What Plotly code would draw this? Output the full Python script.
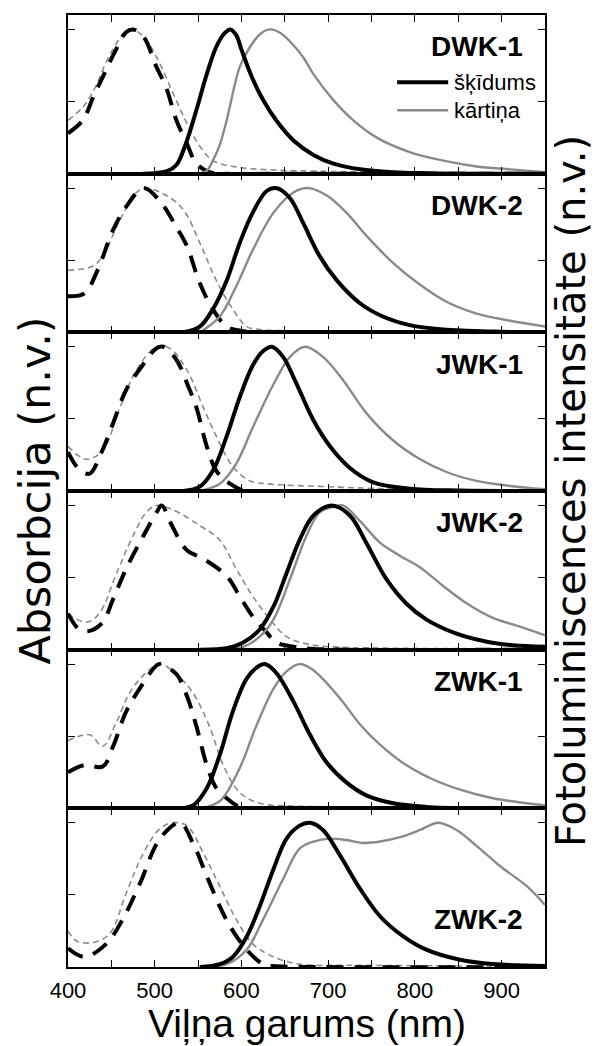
import plotly.graph_objects as go
from plotly.subplots import make_subplots

# Sample names (one per panel, top to bottom)
samples = ["DWK-1", "DWK-2", "JWK-1", "JWK-2", "ZWK-1", "ZWK-2"]

# ---------------------------------------------------------------- DWK-1
dwk1_abs_sol_wl = [400, 417, 429, 440, 452, 467, 475, 487, 502, 513, 525, 537, 548, 563, 580, 650, 800, 950]
dwk1_abs_sol = [0.28, 0.37, 0.53, 0.67, 0.82, 0.98, 1.0, 0.95, 0.74, 0.60, 0.37, 0.21, 0.07, 0.01, 0.0, 0.0, 0.0, 0.0]
dwk1_abs_film_wl = [400, 417, 429, 448, 467, 475, 490, 502, 521, 537, 552, 567, 590, 621, 698, 775, 950]
dwk1_abs_film = [0.37, 0.46, 0.57, 0.82, 0.99, 1.0, 0.93, 0.81, 0.56, 0.35, 0.19, 0.09, 0.05, 0.03, 0.016, 0.01, 0.005]
dwk1_pl_sol_wl = [486, 502, 515, 525, 536, 548, 560, 571, 580, 587, 594, 600, 612, 625, 640, 660, 683, 706, 737, 775, 813, 850, 950]
dwk1_pl_sol = [0.0, 0.005, 0.02, 0.06, 0.21, 0.44, 0.69, 0.88, 0.97, 1.0, 0.96, 0.86, 0.67, 0.51, 0.37, 0.23, 0.13, 0.07, 0.03, 0.01, 0.003, 0.0, 0.0]
dwk1_pl_film_wl = [552, 560, 567, 575, 583, 598, 610, 622, 633, 645, 660, 672, 683, 706, 729, 756, 794, 833, 871, 910, 950]
dwk1_pl_film = [0.0, 0.02, 0.09, 0.2, 0.37, 0.74, 0.88, 0.97, 1.0, 0.975, 0.89, 0.80, 0.69, 0.51, 0.37, 0.25, 0.15, 0.09, 0.05, 0.03, 0.01]

# ---------------------------------------------------------------- DWK-2
dwk2_abs_sol_wl = [400, 419, 434, 452, 467, 487, 506, 525, 537, 552, 567, 583, 600, 650, 800, 950]
dwk2_abs_sol = [0.25, 0.27, 0.43, 0.71, 0.87, 1.0, 0.91, 0.73, 0.60, 0.34, 0.16, 0.04, 0.01, 0.0, 0.0, 0.0]
dwk2_abs_film_wl = [400, 429, 440, 460, 479, 490, 513, 533, 552, 571, 590, 606, 621, 698, 950]
dwk2_abs_film = [0.43, 0.46, 0.53, 0.78, 0.97, 1.0, 0.95, 0.85, 0.62, 0.36, 0.16, 0.04, 0.02, 0.01, 0.005]
dwk2_pl_sol_wl = [533, 552, 567, 583, 598, 613, 629, 640, 656, 671, 690, 710, 737, 763, 794, 833, 890, 950]
dwk2_pl_sol = [0.0, 0.04, 0.16, 0.36, 0.62, 0.83, 0.98, 1.0, 0.93, 0.76, 0.53, 0.36, 0.2, 0.11, 0.05, 0.02, 0.005, 0.0]
dwk2_pl_film_wl = [552, 575, 594, 613, 637, 660, 677, 698, 721, 744, 775, 806, 837, 871, 910, 950]
dwk2_pl_film = [0.0, 0.11, 0.32, 0.57, 0.83, 0.97, 1.0, 0.95, 0.83, 0.67, 0.48, 0.33, 0.21, 0.13, 0.08, 0.04]

# ---------------------------------------------------------------- JWK-1
jwk1_abs_sol_wl = [400, 413, 425, 438, 452, 467, 487, 502, 510, 525, 537, 548, 560, 571, 587, 602, 650, 950]
jwk1_abs_sol = [0.27, 0.15, 0.12, 0.26, 0.47, 0.70, 0.88, 0.99, 1.0, 0.91, 0.75, 0.58, 0.31, 0.14, 0.05, 0.005, 0.0, 0.0]
jwk1_abs_film_wl = [400, 421, 440, 460, 479, 502, 517, 537, 556, 571, 590, 610, 629, 698, 775, 950]
jwk1_abs_film = [0.31, 0.22, 0.28, 0.58, 0.84, 1.0, 0.99, 0.84, 0.58, 0.38, 0.17, 0.07, 0.05, 0.03, 0.015, 0.005]
jwk1_pl_sol_wl = [533, 552, 567, 583, 598, 613, 625, 635, 648, 663, 683, 702, 725, 752, 794, 852, 950]
jwk1_pl_sol = [0.0, 0.03, 0.14, 0.38, 0.65, 0.87, 0.97, 1.0, 0.93, 0.75, 0.49, 0.31, 0.16, 0.06, 0.016, 0.003, 0.0]
jwk1_pl_film_wl = [552, 575, 594, 613, 637, 656, 673, 694, 717, 744, 775, 806, 837, 871, 910, 950]
jwk1_pl_film = [0.0, 0.05, 0.19, 0.44, 0.74, 0.93, 1.0, 0.93, 0.77, 0.54, 0.35, 0.22, 0.13, 0.07, 0.035, 0.012]

# ---------------------------------------------------------------- JWK-2
jwk2_abs_sol_wl = [400, 413, 425, 440, 452, 467, 487, 502, 508, 519, 537, 556, 583, 598, 613, 629, 640, 660, 679, 720, 950]
jwk2_abs_sol = [0.25, 0.14, 0.13, 0.19, 0.35, 0.56, 0.79, 0.95, 1.0, 0.87, 0.69, 0.63, 0.51, 0.37, 0.23, 0.12, 0.05, 0.02, 0.007, 0.0, 0.0]
jwk2_abs_film_wl = [400, 421, 436, 456, 475, 490, 502, 521, 552, 575, 594, 613, 633, 652, 679, 717, 775, 950]
jwk2_abs_film = [0.25, 0.19, 0.25, 0.53, 0.79, 0.95, 1.0, 0.97, 0.86, 0.76, 0.56, 0.37, 0.21, 0.09, 0.035, 0.016, 0.01, 0.005]
jwk2_pl_sol_wl = [552, 583, 602, 621, 637, 652, 667, 683, 704, 725, 744, 767, 790, 813, 844, 879, 913, 950]
jwk2_pl_sol = [0.0, 0.01, 0.05, 0.14, 0.30, 0.53, 0.76, 0.93, 1.0, 0.93, 0.74, 0.49, 0.32, 0.21, 0.12, 0.06, 0.03, 0.02]
jwk2_pl_film_wl = [552, 602, 621, 637, 656, 675, 690, 706, 717, 737, 760, 783, 806, 833, 860, 890, 921, 950]
jwk2_pl_film = [0.0, 0.02, 0.09, 0.21, 0.49, 0.79, 0.95, 0.99, 1.0, 0.89, 0.74, 0.65, 0.57, 0.44, 0.32, 0.22, 0.16, 0.10]

# ---------------------------------------------------------------- ZWK-1
zwk1_abs_sol_wl = [400, 419, 440, 452, 467, 487, 502, 506, 525, 537, 548, 560, 571, 583, 598, 650, 950]
zwk1_abs_sol = [0.25, 0.30, 0.29, 0.43, 0.67, 0.87, 0.99, 1.0, 0.93, 0.78, 0.57, 0.30, 0.14, 0.07, 0.01, 0.0, 0.0]
zwk1_abs_film_wl = [400, 425, 440, 456, 471, 490, 506, 525, 544, 563, 579, 598, 621, 660, 775, 950]
zwk1_abs_film = [0.47, 0.51, 0.43, 0.60, 0.80, 0.94, 1.0, 0.93, 0.80, 0.57, 0.30, 0.11, 0.035, 0.016, 0.01, 0.005]
zwk1_pl_sol_wl = [525, 544, 560, 575, 590, 606, 621, 627, 640, 660, 679, 698, 721, 744, 775, 813, 870, 950]
zwk1_pl_sol = [0.0, 0.02, 0.14, 0.37, 0.67, 0.90, 0.99, 1.0, 0.94, 0.74, 0.51, 0.32, 0.18, 0.09, 0.035, 0.01, 0.0, 0.0]
zwk1_pl_film_wl = [552, 575, 598, 617, 637, 652, 667, 680, 690, 714, 737, 760, 790, 821, 852, 890, 929, 950]
zwk1_pl_film = [0.0, 0.05, 0.28, 0.57, 0.83, 0.95, 1.0, 0.97, 0.92, 0.76, 0.58, 0.44, 0.30, 0.20, 0.13, 0.07, 0.035, 0.02]

# ---------------------------------------------------------------- ZWK-2
zwk2_abs_sol_wl = [400, 419, 444, 463, 483, 506, 529, 544, 560, 575, 587, 606, 625, 640, 680, 950]
zwk2_abs_sol = [0.13, 0.07, 0.16, 0.33, 0.58, 0.89, 1.0, 0.86, 0.63, 0.42, 0.28, 0.12, 0.02, 0.005, 0.0, 0.0]
zwk2_abs_film_wl = [400, 410, 429, 448, 467, 487, 506, 521, 537, 556, 575, 594, 613, 637, 667, 737, 950]
zwk2_abs_film = [0.25, 0.18, 0.17, 0.23, 0.51, 0.79, 0.96, 1.0, 0.98, 0.79, 0.56, 0.33, 0.16, 0.07, 0.02, 0.012, 0.005]
zwk2_pl_sol_wl = [552, 575, 590, 606, 621, 637, 652, 667, 679, 694, 714, 737, 760, 787, 813, 852, 890, 950]
zwk2_pl_sol = [0.0, 0.02, 0.07, 0.21, 0.42, 0.68, 0.89, 0.98, 1.0, 0.95, 0.77, 0.54, 0.35, 0.21, 0.12, 0.05, 0.02, 0.007]
zwk2_pl_film_wl = [552, 583, 606, 625, 648, 667, 683, 702, 721, 740, 760, 783, 806, 827, 848, 871, 898, 929, 950]
zwk2_pl_film = [0.0, 0.02, 0.12, 0.33, 0.61, 0.82, 0.87, 0.89, 0.88, 0.86, 0.87, 0.90, 0.95, 1.0, 0.95, 0.84, 0.70, 0.56, 0.43]

x_ticks = [400, 500, 600, 700, 800, 900]

panels = [
    (dwk1_abs_film_wl, dwk1_abs_film, dwk1_abs_sol_wl, dwk1_abs_sol, dwk1_pl_film_wl, dwk1_pl_film, dwk1_pl_sol_wl, dwk1_pl_sol),
    (dwk2_abs_film_wl, dwk2_abs_film, dwk2_abs_sol_wl, dwk2_abs_sol, dwk2_pl_film_wl, dwk2_pl_film, dwk2_pl_sol_wl, dwk2_pl_sol),
    (jwk1_abs_film_wl, jwk1_abs_film, jwk1_abs_sol_wl, jwk1_abs_sol, jwk1_pl_film_wl, jwk1_pl_film, jwk1_pl_sol_wl, jwk1_pl_sol),
    (jwk2_abs_film_wl, jwk2_abs_film, jwk2_abs_sol_wl, jwk2_abs_sol, jwk2_pl_film_wl, jwk2_pl_film, jwk2_pl_sol_wl, jwk2_pl_sol),
    (zwk1_abs_film_wl, zwk1_abs_film, zwk1_abs_sol_wl, zwk1_abs_sol, zwk1_pl_film_wl, zwk1_pl_film, zwk1_pl_sol_wl, zwk1_pl_sol),
    (zwk2_abs_film_wl, zwk2_abs_film, zwk2_abs_sol_wl, zwk2_abs_sol, zwk2_pl_film_wl, zwk2_pl_film, zwk2_pl_sol_wl, zwk2_pl_sol),
]

FONT = "Liberation Sans, Arial, sans-serif"
TITLE_FONT = "DejaVu Sans, Liberation Sans, sans-serif"
BLACK = "#000000"
GRAY = "#8a8a8a"

fig = make_subplots(rows=6, cols=1, shared_xaxes=True, vertical_spacing=0)

for i, (afw, af, asw, a_s, pfw, pf, psw, ps) in enumerate(panels):
    row = i + 1
    # absorption of the film (thin grey dashes)
    fig.add_trace(go.Scatter(x=afw, y=af, mode="lines", line_shape="spline",
                             line=dict(color=GRAY, width=1.6, dash="6px,4px"),
                             showlegend=False), row=row, col=1)
    # absorption of the solution (thick black dashes)
    fig.add_trace(go.Scatter(x=asw, y=a_s, mode="lines", line_shape="spline",
                             line=dict(color=BLACK, width=4, dash="17px,11px"),
                             showlegend=False), row=row, col=1)
    # PL of the film
    fig.add_trace(go.Scatter(x=pfw, y=pf, mode="lines", line_shape="spline",
                             line=dict(color=GRAY, width=2.4),
                             showlegend=False), row=row, col=1)
    # PL of the solution
    fig.add_trace(go.Scatter(x=psw, y=ps, mode="lines", line_shape="spline",
                             line=dict(color=BLACK, width=4),
                             showlegend=False), row=row, col=1)

    # sample label
    lab_y = 0.30 if i == 5 else 0.80
    fig.add_annotation(text="<b>%s</b>" % samples[i], x=0.958, y=lab_y,
                       xref="x%s domain" % ("" if row == 1 else row),
                       yref="y%s domain" % ("" if row == 1 else row),
                       xanchor="right", yanchor="middle", showarrow=False,
                       font=dict(family=FONT, size=28, color=BLACK))

fig.update_xaxes(range=[400, 950], tickvals=x_ticks, ticks="inside", ticklen=7,
                 tickwidth=1.3, tickcolor=BLACK,
                 minor=dict(dtick=50, ticks="inside", ticklen=7, tickwidth=1.3, tickcolor=BLACK),
                 showline=True, linecolor=BLACK, linewidth=1.5, mirror="ticks",
                 showgrid=False, zeroline=False,
                 tickfont=dict(family=FONT, size=22, color=BLACK), ticklabelstandoff=3)
fig.update_yaxes(range=[0, 1.1], tickvals=[0, 0.5, 1.0], ticks="inside", ticklen=7,
                 tickwidth=1.3, tickcolor=BLACK, showticklabels=False,
                 showline=True, linecolor=BLACK, linewidth=1.5, mirror="ticks",
                 showgrid=False, zeroline=False)

# legend drawn by hand inside the top panel
fig.add_shape(type="line", xref="x domain", yref="y domain", x0=0.69, x1=0.797,
              y0=0.576, y1=0.576, line=dict(color=BLACK, width=4))
fig.add_shape(type="line", xref="x domain", yref="y domain", x0=0.69, x1=0.797,
              y0=0.40, y1=0.40, line=dict(color=GRAY, width=2.4))
fig.add_annotation(text="šķīdums", xref="x domain", yref="y domain", x=0.805, y=0.576,
                   xanchor="left", yanchor="middle", showarrow=False,
                   font=dict(family=FONT, size=22, color=BLACK))
fig.add_annotation(text="kārtiņa", xref="x domain", yref="y domain", x=0.805, y=0.40,
                   xanchor="left", yanchor="middle", showarrow=False,
                   font=dict(family=FONT, size=22, color=BLACK))

# axis titles
fig.add_annotation(text="Viļņa garums (nm)", xref="paper", yref="paper", x=0.5, y=-0.0595,
                   xanchor="center", yanchor="middle", showarrow=False,
                   font=dict(family=FONT, size=39, color=BLACK))
fig.add_annotation(text="Absorbcija (n.v.)", xref="paper", yref="paper", x=-0.07, y=0.5,
                   textangle=-90, xanchor="center", yanchor="middle", showarrow=False,
                   font=dict(family=TITLE_FONT, size=43, color=BLACK))
fig.add_annotation(text="Fotoluminiscences intensitāte (n.v.)", xref="paper", yref="paper",
                   x=1.0545, y=0.5, textangle=-90, xanchor="center", yanchor="middle",
                   showarrow=False, font=dict(family=TITLE_FONT, size=40, color=BLACK))

fig.update_layout(width=599, height=1046, margin=dict(l=60, r=62, t=7, b=87),
                  plot_bgcolor="white", paper_bgcolor="white", showlegend=False)

fig.write_html("out.html")
